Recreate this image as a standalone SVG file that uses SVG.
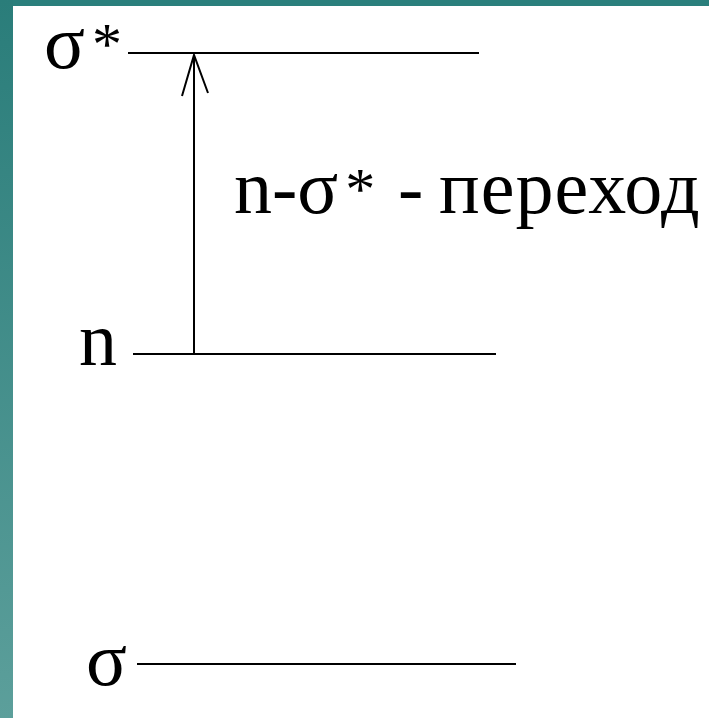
<svg xmlns="http://www.w3.org/2000/svg" width="709" height="718" viewBox="0 0 709 718">
  <defs>
    <linearGradient id="side" x1="0" y1="0" x2="0" y2="1">
      <stop offset="0" stop-color="#2a7d7a"/>
      <stop offset="1" stop-color="#5c9f9b"/>
    </linearGradient>
    <style>
      .lvl { stroke: #000; stroke-width: 2; fill: none; }
      .lbl { font-family: "Liberation Serif", "Times New Roman", serif; font-size: 76px; fill: #000; }
      .ast { font-size: 60px; }
      .arr { stroke: #000; stroke-width: 2; fill: none; }
    </style>
  </defs>
  <rect x="0" y="0" width="709" height="718" fill="#fff"/>
  <rect x="0" y="0" width="709" height="6" fill="#2a7f7c"/>
  <rect x="0" y="0" width="13" height="718" fill="url(#side)"/>

  <g id="level-sigma-star">
    <line class="lvl" x1="128" y1="53" x2="479" y2="53"/>
    <text class="lbl" x="44" y="68">σ<tspan class="ast" dx="7" dy="-4">*</tspan></text>
  </g>
  <g id="level-n">
    <line class="lvl" x1="133" y1="354" x2="496" y2="354"/>
    <text class="lbl" x="79" y="365">n</text>
  </g>
  <g id="level-sigma">
    <line class="lvl" x1="137" y1="664" x2="516" y2="664"/>
    <text class="lbl" x="86" y="685">σ</text>
  </g>
  <g id="connectors">
    <line class="arr" x1="194" y1="354" x2="194" y2="55"/>
    <polyline class="arr" points="182,96 194,55 208,93"/>
    <text class="lbl" x="234" y="213" xml:space="preserve">n-σ<tspan class="ast" dx="7" dy="-4">*</tspan><tspan dy="4" x="398">-</tspan><tspan x="439" letter-spacing="1">переход</tspan></text>
  </g>
</svg>
